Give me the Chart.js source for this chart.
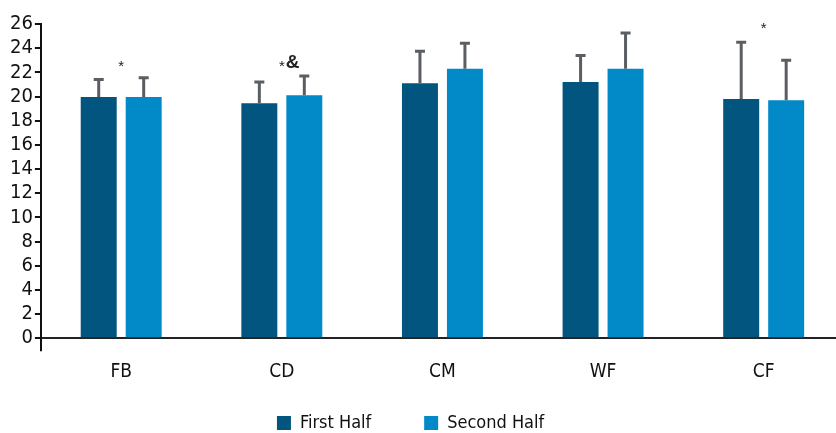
<!DOCTYPE html>
<html>
<head>
<meta charset="utf-8">
<script src="https://cdn.jsdelivr.net/npm/chart.js@4.4.1/dist/chart.umd.min.js"></script>
<style>
  html, body { margin: 0; padding: 0; background: #fff; }
  #wrap { width: 836px; height: 433px; position: relative; overflow: hidden; }
  #inner { width: 844px; height: 433px; position: relative; }
</style>
</head>
<body>
<div id="wrap"><div id="inner"><canvas id="c"></canvas></div></div>
<script>
// Positions on the pitch
const categories = ['FB', 'CD', 'CM', 'WF', 'CF'];

// Mean values per half
const firstHalf  = [19.95, 19.45, 21.1, 21.2, 19.8];
const secondHalf = [19.95, 20.1, 22.3, 22.3, 19.7];

// Standard deviations (upper whisker)
const firstHalfSD  = [1.45, 1.75, 2.65, 2.2, 4.7];
const secondHalfSD = [1.6, 1.6, 2.1, 2.95, 3.3];

// Y axis ticks
const yTicks = [0, 2, 4, 6, 8, 10, 12, 14, 16, 18, 20, 22, 24, 26];

// Significance markers: category, text pieces, height in axis units
const markCategory = ['FB', 'CD', 'CF'];
const markText = [['*'], ['*', '&'], ['*']];
const markLevel = [22.8, 22.8, 25.9];

const FONT = '"DejaVu Sans Condensed", "Liberation Sans Narrow", "Liberation Sans", Arial, sans-serif';

const errorBars = {
  id: 'errorBars',
  afterDatasetsDraw(chart) {
    const ctx = chart.ctx;
    const y = chart.scales.y;
    const sds = [firstHalfSD, secondHalfSD];
    ctx.save();
    ctx.strokeStyle = '#5a5e63';
    ctx.lineWidth = 3;
    chart.data.datasets.forEach((ds, di) => {
      const meta = chart.getDatasetMeta(di);
      meta.data.forEach((bar, i) => {
        const top = y.getPixelForValue(ds.data[i] + sds[di][i]);
        const base = y.getPixelForValue(ds.data[i]);
        ctx.beginPath();
        ctx.moveTo(bar.x, base);
        ctx.lineTo(bar.x, top);
        ctx.moveTo(bar.x - 5, top);
        ctx.lineTo(bar.x + 5, top);
        ctx.stroke();
      });
    });
    ctx.restore();
  }
};

const markers = {
  id: 'markers',
  afterDatasetsDraw(chart) {
    const ctx = chart.ctx;
    const x = chart.scales.x;
    const y = chart.scales.y;
    ctx.save();
    ctx.fillStyle = '#222';
    ctx.textBaseline = 'middle';
    markCategory.forEach((cat, k) => {
      const px = x.getPixelForValue(categories.indexOf(cat));
      const py = y.getPixelForValue(markLevel[k]);
      const parts = markText[k];
      const fonts = parts.map(p => p === '*' ? '15px "Liberation Sans", Arial, sans-serif' : 'bold 19px "Liberation Sans", Arial, sans-serif');
      let total = 0;
      const widths = parts.map((p, j) => { ctx.font = fonts[j]; const w = ctx.measureText(p).width; total += w; return w; });
      let cx = parts.length > 1 ? px - widths[0] / 2 : px - total / 2;
      parts.forEach((p, j) => {
        ctx.font = fonts[j];
        ctx.textAlign = 'left';
        ctx.fillText(p, cx, p === '*' ? py + 4 : py);
        cx += widths[j] + 1;
      });
    });
    ctx.restore();
  }
};

// Legend entries get a little trailing room so the two items sit further apart
const legendGapFirst = '\u00a0'.repeat(6);
const legendGapSecond = '\u00a0'.repeat(6);

new Chart(document.getElementById('c'), {
  type: 'bar',
  data: {
    labels: categories,
    datasets: [
      { label: 'First Half', data: firstHalf, backgroundColor: '#01557f',
        barPercentage: 0.8, categoryPercentage: 0.56 },
      { label: 'Second Half', data: secondHalf, backgroundColor: '#0289c7',
        barPercentage: 0.8, categoryPercentage: 0.56 }
    ]
  },
  options: {
    responsive: true,
    maintainAspectRatio: false,
    animation: false,
    layout: { padding: { top: 24, right: 0, left: 8, bottom: -9 } },
    plugins: {
      tooltip: { enabled: false },
      legend: {
        position: 'bottom',
        labels: {
          boxWidth: 14, boxHeight: 14, padding: 22,
          color: '#111',
          font: { family: FONT, size: 18 },
          generateLabels(chart) {
            const items = Chart.defaults.plugins.legend.labels.generateLabels(chart);
            items.forEach((it, i) => {
              it.lineWidth = 0;
              it.text = it.text + (i === 0 ? legendGapFirst : legendGapSecond);
            });
            return items;
          }
        }
      }
    },
    scales: {
      x: {
        grid: {
          drawOnChartArea: false,
          tickLength: 13,
          lineWidth: 2,
          color: (c) => c.index === 0 ? '#111' : 'rgba(0,0,0,0)'
        },
        border: { color: '#222', width: 2 },
        ticks: { color: '#111', font: { family: FONT, size: 19 }, padding: 9 }
      },
      y: {
        min: 0, max: 26,
        afterBuildTicks(scale) { scale.ticks = yTicks.map(v => ({ value: v })); },
        grid: { drawOnChartArea: false, tickLength: 6, lineWidth: 2, color: '#111' },
        border: { color: '#111', width: 2 },
        ticks: { color: '#111', font: { family: FONT, size: 20 }, padding: 2, autoSkip: false }
      }
    }
  },
  plugins: [errorBars, markers]
});
</script>
</body>
</html>
